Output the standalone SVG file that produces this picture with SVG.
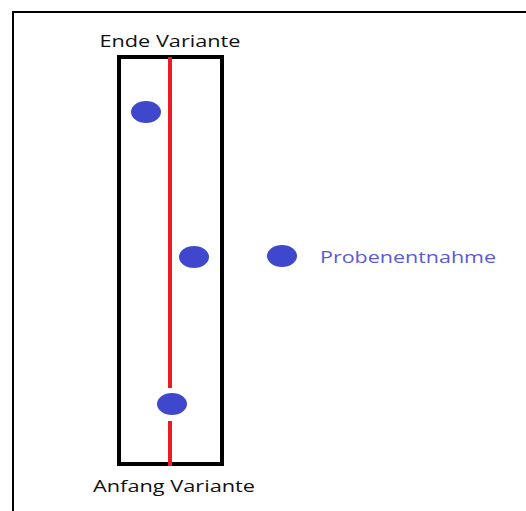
<svg xmlns="http://www.w3.org/2000/svg" width="526" height="511" viewBox="0 0 526 511">
  <style>
    .frame { fill: none; stroke: #000; stroke-width: 2; }
    .box { fill: none; stroke: #000; stroke-width: 4; }
    .axis { stroke: #ed1c24; stroke-width: 4; }
    .dot { fill: #3f48cc; }
    .label { font-family: "Open Sans", "Liberation Sans", sans-serif; font-size: 17px; fill: #111; }
    .legend { font-family: "Open Sans", "Liberation Sans", sans-serif; font-size: 16px; fill: #5a5ad8; }
  </style>
  <rect width="526" height="511" fill="#fff"/>
  <!-- outer frame (top and left edges only) -->
  <path class="frame" d="M13 511 V12 H526"/>

  <g id="variant-bar">
    <rect class="box" x="119" y="57" width="103" height="407"/>
    <!-- red axis, interrupted around the lower sample -->
    <line class="axis" x1="170" y1="57" x2="170" y2="388"/>
    <line class="axis" x1="170" y1="421" x2="170" y2="466"/>
  </g>

  <g id="label-top">
    <text class="label" x="170" y="47" text-anchor="middle" textLength="141" lengthAdjust="spacingAndGlyphs">Ende Variante</text>
  </g>
  <g id="label-bottom">
    <text class="label" x="174" y="492" text-anchor="middle" textLength="162" lengthAdjust="spacingAndGlyphs">Anfang Variante</text>
  </g>

  <g id="sample-1"><ellipse class="dot" cx="146" cy="112" rx="15" ry="11"/></g>
  <g id="sample-2"><ellipse class="dot" cx="194" cy="257" rx="15" ry="11"/></g>
  <g id="sample-3"><ellipse class="dot" cx="172" cy="404" rx="15" ry="11"/></g>

  <g id="legend">
    <ellipse class="dot" cx="282" cy="256" rx="15" ry="11"/>
    <text class="legend" x="320" y="263" textLength="176" lengthAdjust="spacingAndGlyphs">Probenentnahme</text>
  </g>
</svg>
